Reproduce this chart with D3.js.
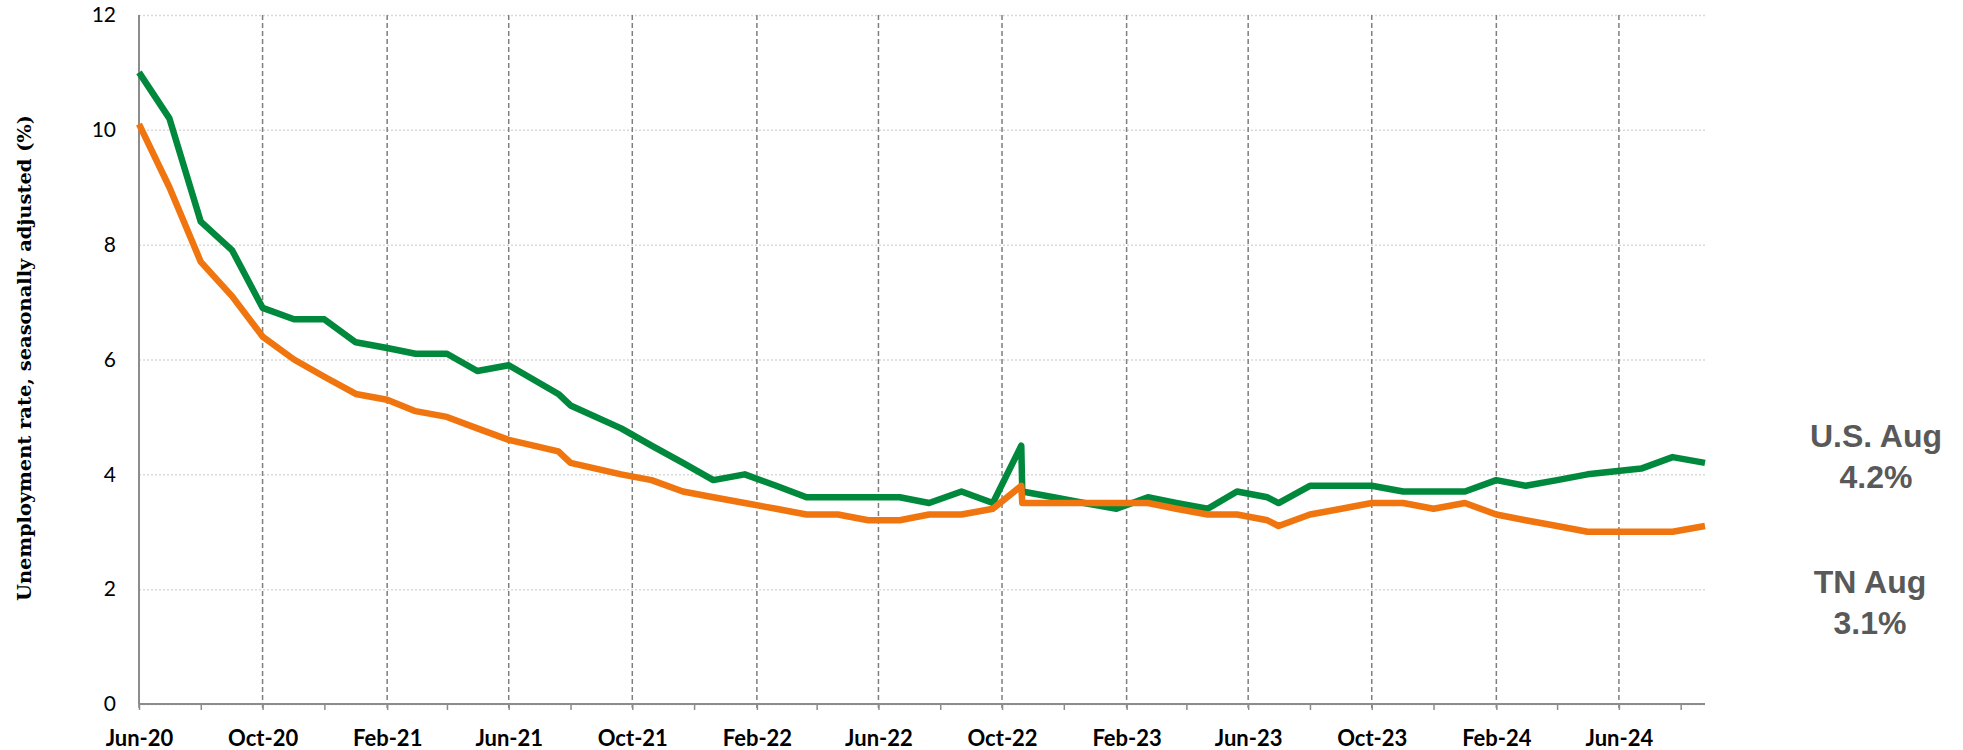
<!DOCTYPE html>
<html>
<head>
<meta charset="utf-8">
<script src="https://cdn.jsdelivr.net/npm/d3@7"></script>
<style>
  body { margin: 0; background: #fff; }
  svg { display: block; }
</style>
</head>
<body>
<div class="chart"></div>
<script>
//data (dates as they sit on the sheet's date axis)
const dates = [
  "2020-06-01","2020-07-01","2020-08-01","2020-09-01","2020-10-01","2020-11-01","2020-12-01",
  "2021-01-01","2021-02-01","2021-03-01","2021-04-01","2021-05-01","2021-06-01","2021-07-20",
  "2021-08-01","2021-09-20","2021-10-20","2021-11-20","2021-12-20","2022-01-20","2022-02-20",
  "2022-03-22","2022-04-22","2022-05-22","2022-06-22","2022-07-21","2022-08-22","2022-09-22",
  "2022-10-20","2022-10-21","2022-11-21","2022-12-21","2023-01-22","2023-02-22","2023-03-22",
  "2023-04-22","2023-05-21","2023-06-20","2023-07-01","2023-08-01","2023-09-01","2023-10-01",
  "2023-11-01","2023-12-01","2024-01-01","2024-02-01","2024-03-01","2024-04-01","2024-05-01",
  "2024-06-23","2024-07-24","2024-08-25"];
const usRate = [
  11.0,10.2,8.4,7.9,6.9,6.7,6.7,
  6.3,6.2,6.1,6.1,5.8,5.9,5.4,
  5.2,4.8,4.5,4.2,3.9,4.0,3.8,
  3.6,3.6,3.6,3.6,3.5,3.7,3.5,
  4.5,3.7,3.6,3.5,3.4,3.6,3.5,
  3.4,3.7,3.6,3.5,3.8,3.8,3.8,
  3.7,3.7,3.7,3.9,3.8,3.9,4.0,
  4.1,4.3,4.2];
const tnRate = [
  10.1,9.0,7.7,7.1,6.4,6.0,5.7,
  5.4,5.3,5.1,5.0,4.8,4.6,4.4,
  4.2,4.0,3.9,3.7,3.6,3.5,3.4,
  3.3,3.3,3.2,3.2,3.3,3.3,3.4,
  3.8,3.5,3.5,3.5,3.5,3.5,3.4,
  3.3,3.3,3.2,3.1,3.3,3.4,3.5,
  3.5,3.4,3.5,3.3,3.2,3.1,3.0,
  3.0,3.0,3.1];
const tickLabels = ["Jun-20","Oct-20","Feb-21","Jun-21","Oct-21","Feb-22","Jun-22",
  "Oct-22","Feb-23","Jun-23","Oct-23","Feb-24","Jun-24"];
const yTicks = [0,2,4,6,8,10,12];
const notes = [
  {lines:["U.S. Aug","4.2%"]},
  {lines:["TN Aug","3.1%"]}];

//canvas
const width = 1963, height = 750,
  plotL = 139, plotR = 1705, plotT = 15, plotB = 704,
  green = "#00893d", orange = "#f0750f";

const parse = d3.timeParse("%Y-%m-%d"),
  parseTick = d3.timeParse("%b-%y");
const xDates = dates.map(parse);

const x = d3.scaleTime()
  .domain([xDates[0], xDates[xDates.length-1]])
  .range([plotL, plotR]);
const y = d3.scaleLinear()
  .domain([0, 12])
  .range([plotB, plotT]);

const svg = d3.select(".chart").append("svg")
  .attr("width", width)
  .attr("height", height);

//horizontal dotted grid + y labels
const yAxis = svg.append("g")
  .attr("transform", "translate(" + plotL + ",0)")
  .call(d3.axisLeft(y).tickValues(yTicks).tickSize(-(plotR-plotL)).tickPadding(23).tickFormat(d3.format("d")));
yAxis.select(".domain").remove();
yAxis.selectAll("line")
  .attr("stroke", "#d9d9d9")
  .attr("stroke-width", 1.5)
  .attr("stroke-dasharray", "2,2");
yAxis.selectAll("text")
  .style("font-family", "Lato, sans-serif")
  .style("font-size", "21px")
  .attr("fill", "#000");

//vertical dashed lines at labelled months
const labelDates = tickLabels.map(parseTick);
svg.append("g").selectAll("line")
  .data(labelDates)
  .enter().append("line")
  .attr("x1", d => x(d)).attr("x2", d => x(d))
  .attr("y1", plotT).attr("y2", plotB + 7)
  .attr("stroke", "#7f7f7f")
  .attr("stroke-width", 1.5)
  .attr("stroke-dasharray", "5,3");

//x axis: minor ticks every 2 months, labels every 4
const minorTicks = d3.timeMonth.range(xDates[0], xDates[xDates.length-1], 2);
const xMinor = svg.append("g")
  .attr("transform", "translate(0," + plotB + ")")
  .call(d3.axisBottom(x).tickValues(minorTicks).tickSize(6).tickFormat(""));
xMinor.select(".domain").remove();
xMinor.selectAll("line").attr("stroke", "#8c8c8c").attr("stroke-width", 1.5);

const xLab = svg.append("g")
  .attr("transform", "translate(0," + plotB + ")")
  .call(d3.axisBottom(x).tickValues(labelDates).tickSize(0).tickPadding(26).tickFormat(d3.timeFormat("%b-%y")));
xLab.select(".domain").remove();
xLab.selectAll("text")
  .style("font-family", "Lato, sans-serif")
  .style("font-size", "22px")
  .style("font-weight", "bold")
  .attr("fill", "#000");

//axis lines
svg.append("line")
  .attr("x1", plotL).attr("x2", plotR)
  .attr("y1", plotB).attr("y2", plotB)
  .attr("stroke", "#8c8c8c").attr("stroke-width", 2);
svg.append("line")
  .attr("x1", plotL).attr("x2", plotL)
  .attr("y1", plotT).attr("y2", plotB)
  .attr("stroke", "#8c8c8c").attr("stroke-width", 2);

//series lines
const line = d3.line()
  .x((d, i) => x(xDates[i]))
  .y(d => y(d));
svg.append("path")
  .datum(usRate)
  .attr("fill", "none")
  .attr("stroke", green)
  .attr("stroke-width", 6.5)
  .attr("stroke-linejoin", "round")
  .attr("d", line);
svg.append("path")
  .datum(tnRate)
  .attr("fill", "none")
  .attr("stroke", orange)
  .attr("stroke-width", 6.5)
  .attr("stroke-linejoin", "round")
  .attr("d", line);

//y title, sized to fit the axis height
const title = svg.append("text")
  .attr("transform", "translate(31,358) rotate(-90)")
  .attr("text-anchor", "middle")
  .style("font-family", "'DejaVu Serif', serif")
  .style("font-weight", "bold")
  .style("font-size", "18px")
  .text("Unemployment rate, seasonally adjusted (%)");
const tl = title.node().getComputedTextLength();
title.style("font-size", (18 * 486 / tl).toFixed(2) + "px");

//end notes
const noteBase = [447, 593], noteX = [1876, 1870];
notes.forEach((n, k) => {
  svg.append("text")
    .attr("x", noteX[k])
    .attr("y", noteBase[k])
    .attr("text-anchor", "middle")
    .style("font-family", "'Liberation Sans', Arial, sans-serif")
    .style("font-weight", "bold")
    .style("font-size", "32px")
    .attr("fill", "#595959")
    .selectAll("tspan")
    .data(n.lines)
    .enter().append("tspan")
    .attr("x", noteX[k])
    .attr("dy", (d, i) => i == 0 ? 0 : 41)
    .text(d => d);
});
</script>
</body>
</html>
